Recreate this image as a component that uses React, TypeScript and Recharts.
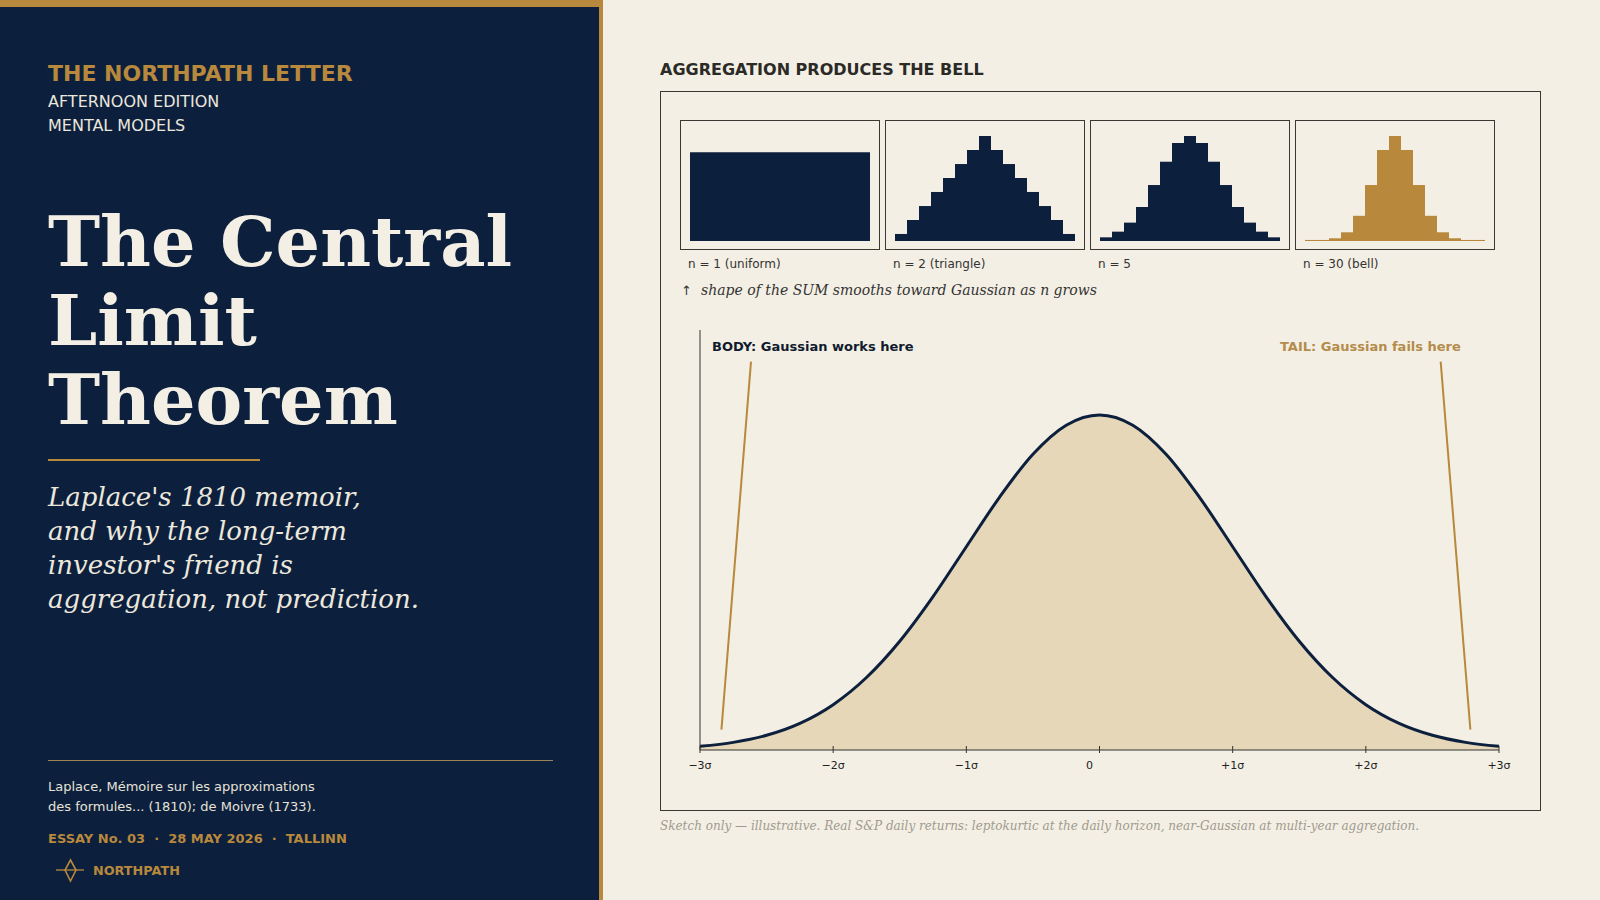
import { BarChart, Bar, XAxis, YAxis, AreaChart, Area, ReferenceLine } from "recharts";

const NAVY = "#0c1f3c";
const GOLD = "#b8893d";
const CREAM = "#f3efe4";
const BEIGE = "#e5d7b8";
const SANS = "'DejaVu Sans', sans-serif";
const SERIF = "'DejaVu Serif', serif";

// histogram bins shared by the four small panels
const histBins = ["1", "2", "3", "4", "5", "6", "7", "8", "9", "10", "11", "12", "13", "14", "15"];
const sumN1 = [0.845, 0.845, 0.845, 0.845, 0.845, 0.845, 0.845, 0.845, 0.845, 0.845, 0.845, 0.845, 0.845, 0.845, 0.845];
const sumN2 = [0.067, 0.2, 0.333, 0.467, 0.6, 0.733, 0.867, 1, 0.867, 0.733, 0.6, 0.467, 0.333, 0.2, 0.067];
const sumN5 = [0.035, 0.089, 0.175, 0.324, 0.533, 0.755, 0.933, 1, 0.933, 0.755, 0.533, 0.324, 0.175, 0.089, 0.035];
const sumN30 = [0.01, 0.01, 0.026, 0.083, 0.24, 0.533, 0.867, 1, 0.867, 0.533, 0.24, 0.083, 0.026, 0.01, 0.01];
const panelLabels = ["n = 1 (uniform)", "n = 2 (triangle)", "n = 5", "n = 30 (bell)"];

// bell curve, read at quarter-sigma steps
const sigmaX = [-3, -2.75, -2.5, -2.25, -2, -1.75, -1.5, -1.25, -1, -0.75, -0.5, -0.25, 0, 0.25, 0.5, 0.75, 1, 1.25, 1.5, 1.75, 2, 2.25, 2.5, 2.75, 3];
const density = [0.0044, 0.0091, 0.0175, 0.0317, 0.054, 0.0863, 0.1295, 0.1826, 0.242, 0.3011, 0.3521, 0.3867, 0.3989, 0.3867, 0.3521, 0.3011, 0.242, 0.1826, 0.1295, 0.0863, 0.054, 0.0317, 0.0175, 0.0091, 0.0044];
const sigmaTicks = [-3, -2, -1, 0, 1, 2, 3];
const sigmaTickLabels = ["−3σ", "−2σ", "−1σ", "0", "+1σ", "+2σ", "+3σ"];

const bellData = sigmaX.map((z, i) => ({ z, d: density[i] }));

const TICK_SIZE = 4;
const TICK_MARGIN = 6;

function Txt({ x, cy, size, children, style }: any) {
  const h = Math.round(size * 1.3);
  return (
    <div
      style={{
        position: "absolute",
        left: x,
        top: cy - h / 2,
        height: h,
        lineHeight: h + "px",
        fontSize: size,
        fontFamily: SANS,
        whiteSpace: "nowrap",
        ...style,
      }}
    >
      {children}
    </div>
  );
}

// tick mark crosses the axis line, label sits under it
function SigmaTick({ x, y, payload }: any) {
  const i = sigmaTicks.indexOf(payload.value);
  const axisY = y - TICK_SIZE - TICK_MARGIN;
  return (
    <g>
      <line x1={x} x2={x} y1={axisY - 4} y2={axisY + 3} stroke="#333" strokeWidth={1} />
      <text
        x={x + (payload.value === 0 ? -10 : 0)}
        y={y + 1}
        dy="0.71em"
        textAnchor="middle"
        fontSize={11}
        fill="#222"
        fontFamily={SANS}
      >
        {sigmaTickLabels[i]}
      </text>
    </g>
  );
}

function MiniHist({ values, color, left, label }: any) {
  const data = histBins.map((b, i) => ({ bin: b, v: values[i] }));
  return (
    <>
      <div
        style={{
          position: "absolute",
          left,
          top: 120,
          width: 200,
          height: 130,
          border: "1px solid #3a3833",
          boxSizing: "border-box",
        }}
      >
        <BarChart
          width={198}
          height={128}
          data={data}
          margin={{ top: 15, right: 9, bottom: 8, left: 9 }}
          barCategoryGap={0}
          barGap={0}
        >
          <XAxis dataKey="bin" hide />
          <YAxis domain={[0, 1]} hide />
          <Bar dataKey="v" fill={color} isAnimationActive={false} />
        </BarChart>
      </div>
      <Txt x={left + 8} cy={264} size={12} style={{ color: "#333" }}>
        {label}
      </Txt>
    </>
  );
}

export default function App() {
  return (
    <div
      style={{
        position: "absolute",
        left: 0,
        top: 0,
        width: 1600,
        height: 900,
        background: CREAM,
        overflow: "hidden",
      }}
    >
      {/* left navy panel */}
      <div style={{ position: "absolute", left: 0, top: 0, width: 599, height: 900, background: NAVY }} />
      <div style={{ position: "absolute", left: 599, top: 0, width: 4, height: 900, background: GOLD }} />
      <div style={{ position: "absolute", left: 0, top: 0, width: 603, height: 7, background: GOLD }} />

      <Txt x={48} cy={73.5} size={22} style={{ color: GOLD, fontWeight: "bold" }}>
        THE NORTHPATH LETTER
      </Txt>
      <Txt x={48} cy={101} size={16} style={{ color: "#ebe7dc" }}>
        AFTERNOON EDITION
      </Txt>
      <Txt x={48} cy={125} size={16} style={{ color: "#ebe7dc" }}>
        MENTAL MODELS
      </Txt>

      <div
        style={{
          position: "absolute",
          left: 48,
          top: 202,
          fontFamily: SERIF,
          fontWeight: "bold",
          fontSize: 70,
          lineHeight: "79px",
          color: "#f3efe4",
        }}
      >
        The Central
        <br />
        Limit
        <br />
        Theorem
      </div>
      <div style={{ position: "absolute", left: 48, top: 459, width: 212, height: 2, background: GOLD }} />

      <div
        style={{
          position: "absolute",
          left: 48,
          top: 480,
          fontFamily: SERIF,
          fontStyle: "italic",
          fontSize: 26,
          lineHeight: "34px",
          color: "#ece8dd",
        }}
      >
        Laplace's 1810 memoir,
        <br />
        and why the long-term
        <br />
        investor's friend is
        <br />
        aggregation, not prediction.
      </div>

      <div style={{ position: "absolute", left: 48, top: 760, width: 505, height: 1, background: "#9a8357" }} />
      <Txt x={48} cy={786.5} size={13} style={{ color: "#e6e2d8" }}>
        Laplace, Mémoire sur les approximations
      </Txt>
      <Txt x={48} cy={806.5} size={13} style={{ color: "#e6e2d8" }}>
        des formules... (1810); de Moivre (1733).
      </Txt>
      <Txt x={48} cy={838.5} size={13} style={{ color: GOLD, fontWeight: "bold" }}>
        {"ESSAY No. 03\u00a0\u00a0·\u00a0\u00a028 MAY 2026\u00a0\u00a0·\u00a0\u00a0TALLINN"}
      </Txt>
      <svg style={{ position: "absolute", left: 50, top: 855 }} width={40} height={30}>
        <line x1={6} y1={15} x2={34} y2={15} stroke={GOLD} strokeWidth={1.3} />
        <polygon points="20.5,5 26,15 20.5,26 15,15" fill="none" stroke={GOLD} strokeWidth={1.6} />
      </svg>
      <Txt x={93} cy={870} size={12.8} style={{ color: GOLD, fontWeight: "bold" }}>
        NORTHPATH
      </Txt>

      {/* right side */}
      <Txt x={660} cy={69.3} size={16} style={{ color: "#2b2a27", fontWeight: "bold" }}>
        AGGREGATION PRODUCES THE BELL
      </Txt>
      <div
        style={{
          position: "absolute",
          left: 660,
          top: 91,
          width: 881,
          height: 720,
          border: "1px solid #3a3833",
          boxSizing: "border-box",
        }}
      />

      <MiniHist values={sumN1} color={NAVY} left={680} label={panelLabels[0]} />
      <MiniHist values={sumN2} color={NAVY} left={885} label={panelLabels[1]} />
      <MiniHist values={sumN5} color={NAVY} left={1090} label={panelLabels[2]} />
      <MiniHist values={sumN30} color={GOLD} left={1295} label={panelLabels[3]} />

      <Txt x={681} cy={290} size={13} style={{ color: "#333" }}>
        ↑
      </Txt>
      <Txt x={701} cy={290} size={14} style={{ color: "#333", fontFamily: SERIF, fontStyle: "italic" }}>
        shape of the SUM smooths toward Gaussian as n grows
      </Txt>

      <div style={{ position: "absolute", left: 660, top: 300 }}>
        <AreaChart width={880} height={500} data={bellData} margin={{ top: 30, right: 41, bottom: 20, left: 39 }}>
          <XAxis
            dataKey="z"
            type="number"
            domain={[-3, 3]}
            ticks={sigmaTicks}
            interval={0}
            height={30}
            axisLine={{ stroke: "#333" }}
            tickLine={false}
            tickSize={TICK_SIZE}
            tickMargin={TICK_MARGIN}
            tick={<SigmaTick />}
          />
          <YAxis domain={[0, 0.5]} width={1} tick={false} tickLine={false} axisLine={{ stroke: "#333" }} />
          <Area
            type="monotone"
            dataKey="d"
            stroke={NAVY}
            strokeWidth={3}
            fill={BEIGE}
            fillOpacity={1}
            isAnimationActive={false}
          />
          <ReferenceLine
            segment={[{ x: -2.617, y: 0.4623 }, { x: -2.839, y: 0.0243 }]}
            stroke={GOLD}
            strokeWidth={2}
            ifOverflow="visible"
          />
          <ReferenceLine
            segment={[{ x: 2.562, y: 0.4623 }, { x: 2.785, y: 0.0243 }]}
            stroke={GOLD}
            strokeWidth={2}
            ifOverflow="visible"
          />
        </AreaChart>
      </div>

      <Txt x={712} cy={346.7} size={13} style={{ color: "#101b2e", fontWeight: "bold" }}>
        BODY: Gaussian works here
      </Txt>
      <Txt x={1280} cy={346.7} size={13} style={{ color: "#b48c4c", fontWeight: "bold" }}>
        TAIL: Gaussian fails here
      </Txt>

      <Txt x={660} cy={825.5} size={12} style={{ color: "#a09a8e", fontFamily: SERIF, fontStyle: "italic" }}>
        Sketch only — illustrative. Real S&amp;P daily returns: leptokurtic at the daily horizon, near-Gaussian at multi-year aggregation.
      </Txt>
    </div>
  );
}
